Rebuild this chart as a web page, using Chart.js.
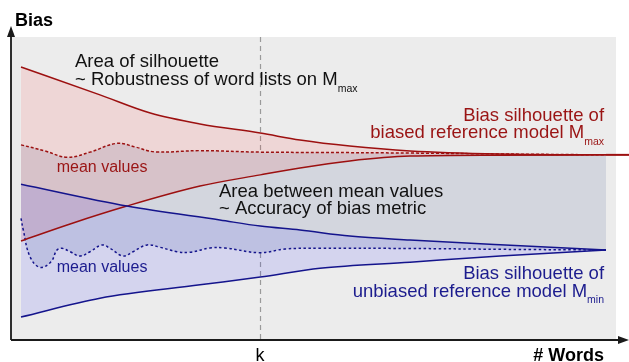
<!DOCTYPE html>
<html>
<head>
<meta charset="utf-8">
<script src="https://cdn.jsdelivr.net/npm/chart.js@4/dist/chart.umd.min.js"></script>
<style>
  html, body { margin: 0; padding: 0; background: #ffffff; }
  #wrap { width: 629px; height: 362px; }
</style>
</head>
<body>
<div id="wrap"><canvas id="c" width="629" height="362"></canvas></div>
<script>
// ---- data (x = number of words, y = bias; conceptual units) ----
const redUpperX = [0, 13.5, 22.1, 30.6, 40.9, 47.7, 56.2, 66.5, 81.9, 100];
const redUpperY = [90.1, 80.9, 74.9, 71.3, 68.3, 66.0, 64.0, 62.4, 61.4, 61.1];

const redLowerX = [0, 8.4, 18.1, 30.6, 40.9, 47.7, 56.2, 66.5, 81.9, 100];
const redLowerY = [32.7, 38.3, 44.2, 50.8, 54.5, 56.8, 59.1, 60.7, 61.0, 61.1];

const redMeanX = [0, 4.1, 7.9, 11.8, 16.4, 19.5, 22.9, 30.6, 40.9, 51.1, 66.5, 81.9, 100];
const redMeanY = [64.4, 62.4, 60.3, 62.0, 64.9, 63.7, 62.1, 62.5, 62.0, 61.9, 61.7, 61.4, 61.1];

const redTailX = [100, 103.93];
const redTailY = [61.1, 61.1];

const blueUpperX = [0, 18.1, 34.0, 40.9, 47.7, 56.2, 66.5, 81.9, 100];
const blueUpperY = [51.4, 44.2, 39.6, 37.6, 36.3, 34.3, 33.0, 31.4, 29.7];

const blueLowerX = [0, 13.5, 30.6, 40.9, 51.1, 66.5, 81.9, 100];
const blueLowerY = [7.6, 13.8, 18.2, 20.8, 23.7, 25.7, 27.7, 29.7];

const blueMeanX = [0, 0.39, 1.54, 3.25, 5.13, 6.15, 7.01, 8.38, 10.09, 11.79, 13.85, 15.21, 17.44,
                   19.15, 21.54, 23.76, 26.67, 28.89, 32.31, 34.87, 40.85, 45.13, 51.11, 66.5, 81.88, 100];
const blueMeanY = [40.17, 36.30, 27.49, 23.99, 25.84, 29.70, 30.26, 29.14, 27.72, 29.14, 31.35, 30.26, 27.72,
                   29.14, 31.35, 30.59, 29.14, 28.94, 30.36, 30.36, 28.81, 30.03, 30.26, 30.20, 29.93, 29.70];

const kTick = 40.85;          // position of "k" on the # Words axis
const bgEndX = 101.7;         // end of the grey panel
const xMin = -1.709, xMax = 103.93, yMin = 0, yMax = 100;

const pts = (xs, ys) => xs.map((x, i) => ({ x: x, y: ys[i] }));

const RED = '#9c1010';
const BLUE = '#14148c';
const RED_TXT = '#9a1414';
const BLUE_TXT = '#1c1c8e';

// ---- annotation texts (anchors in data units) ----
const annotations = [
  { parts: [['Area of silhouette', 18.5]], x: 9.23, y: 90.0, align: 'left', color: '#111' },
  { parts: [['~ Robustness of word lists on M', 18.5], ['max', 10.5, 7]], x: 9.23, y: 84.2, align: 'left', color: '#111' },
  { parts: [['Bias silhouette of', 18.5]], x: 99.66, y: 72.4, align: 'right', color: RED_TXT },
  { parts: [['biased reference model M', 18.5], ['max', 10.5, 7]], x: 99.66, y: 66.6, align: 'right', color: RED_TXT },
  { parts: [['mean values', 16]], x: 6.1, y: 55.3, align: 'left', color: RED_TXT },
  { parts: [['Area between mean values', 18.5]], x: 33.85, y: 47.3, align: 'left', color: '#111' },
  { parts: [['~ Accuracy of bias metric', 18.5]], x: 33.85, y: 41.5, align: 'left', color: '#111' },
  { parts: [['mean values', 16]], x: 6.1, y: 22.5, align: 'left', color: BLUE_TXT },
  { parts: [['Bias silhouette of', 18.5]], x: 99.66, y: 20.1, align: 'right', color: BLUE_TXT },
  { parts: [['unbiased reference model M', 18.5], ['min', 10.5, 6]], x: 99.66, y: 14.1, align: 'right', color: BLUE_TXT }
];

const FONT = "'Liberation Sans', Arial, Helvetica, sans-serif";

const decor = {
  id: 'decor',
  beforeDraw(chart) {
    const { ctx, chartArea: a, scales: { x } } = chart;
    ctx.save();
    ctx.fillStyle = '#ececec';
    ctx.fillRect(a.left, a.top, x.getPixelForValue(bgEndX) - a.left, a.bottom - a.top);
    // dashed k line
    const kx = Math.round(x.getPixelForValue(kTick)) + 0.5;
    ctx.strokeStyle = '#9a9a9a';
    ctx.lineWidth = 1.2;
    ctx.setLineDash([5, 4]);
    ctx.beginPath();
    ctx.moveTo(kx, a.top);
    ctx.lineTo(kx, a.bottom);
    ctx.stroke();
    ctx.restore();
  },
  afterDraw(chart) {
    const { ctx, chartArea: a, scales: { x, y } } = chart;
    ctx.save();
    // axes
    ctx.strokeStyle = '#1a1a1a';
    ctx.fillStyle = '#1a1a1a';
    ctx.lineWidth = 1.8;
    ctx.setLineDash([]);
    ctx.beginPath();
    ctx.moveTo(a.left, a.bottom);
    ctx.lineTo(a.left, a.top - 2);
    ctx.moveTo(a.left, a.bottom);
    ctx.lineTo(a.right - 8, a.bottom);
    ctx.stroke();
    // arrow heads
    ctx.beginPath();
    ctx.moveTo(a.left, a.top - 11);
    ctx.lineTo(a.left - 4, a.top);
    ctx.lineTo(a.left + 4, a.top);
    ctx.closePath();
    ctx.fill();
    ctx.beginPath();
    ctx.moveTo(a.right, a.bottom);
    ctx.lineTo(a.right - 11, a.bottom - 4);
    ctx.lineTo(a.right - 11, a.bottom + 4);
    ctx.closePath();
    ctx.fill();

    // axis titles and k tick
    ctx.fillStyle = '#000';
    ctx.textBaseline = 'alphabetic';
    ctx.font = 'bold 18px ' + FONT;
    ctx.textAlign = 'left';
    ctx.fillText('Bias', 15, 25.7);
    ctx.textAlign = 'right';
    ctx.fillText('# Words', x.getPixelForValue(99.66), 360.5);
    ctx.font = '18px ' + FONT;
    ctx.textAlign = 'center';
    ctx.fillText('k', x.getPixelForValue(kTick), 360.5);

    // annotations
    ctx.textAlign = 'left';
    for (const an of annotations) {
      let total = 0;
      const widths = an.parts.map(p => {
        ctx.font = p[1] + 'px ' + FONT;
        const w = ctx.measureText(p[0]).width;
        total += w;
        return w;
      });
      let px = x.getPixelForValue(an.x);
      const py = y.getPixelForValue(an.y);
      if (an.align === 'right') px -= total;
      ctx.fillStyle = an.color;
      an.parts.forEach((p, i) => {
        ctx.font = p[1] + 'px ' + FONT;
        ctx.fillText(p[0], px, py + (p[2] || 0));
        px += widths[i];
      });
    }
    ctx.restore();
  }
};

const lineBase = { pointRadius: 0, pointHoverRadius: 0, borderWidth: 1.5 };

new Chart(document.getElementById('c'), {
  type: 'line',
  data: {
    datasets: [
      Object.assign({}, lineBase, {
        label: 'biased mean', data: pts(redMeanX, redMeanY), borderColor: RED,
        borderDash: [3, 2], tension: 0.4, fill: 1, backgroundColor: '#d3d6de', order: 3
      }),
      Object.assign({}, lineBase, {
        label: 'unbiased mean', data: pts(blueMeanX, blueMeanY), borderColor: BLUE,
        borderDash: [2.5, 2.5], tension: 0.4, fill: false, order: 3
      }),
      Object.assign({}, lineBase, {
        label: 'biased upper', data: pts(redUpperX, redUpperY), borderColor: RED,
        cubicInterpolationMode: 'monotone', fill: 3, backgroundColor: 'rgba(255,40,40,0.11)', order: 2
      }),
      Object.assign({}, lineBase, {
        label: 'biased lower', data: pts(redLowerX, redLowerY), borderColor: RED,
        cubicInterpolationMode: 'monotone', fill: false, order: 2
      }),
      Object.assign({}, lineBase, {
        label: 'unbiased upper', data: pts(blueUpperX, blueUpperY), borderColor: BLUE,
        cubicInterpolationMode: 'monotone', fill: 5, backgroundColor: 'rgba(40,40,255,0.12)', order: 1
      }),
      Object.assign({}, lineBase, {
        label: 'unbiased lower', data: pts(blueLowerX, blueLowerY), borderColor: BLUE,
        cubicInterpolationMode: 'monotone', fill: false, order: 1
      }),
      Object.assign({}, lineBase, {
        label: 'biased tail', data: pts(redTailX, redTailY), borderColor: RED,
        borderWidth: 2, fill: false, order: 0, clip: false
      })
    ]
  },
  options: {
    responsive: false,
    animation: false,
    events: [],
    layout: { padding: { left: 11, right: 0, top: 37, bottom: 22 } },
    scales: {
      x: { type: 'linear', min: xMin, max: xMax, display: false },
      y: { type: 'linear', min: yMin, max: yMax, display: false }
    },
    plugins: {
      legend: { display: false },
      tooltip: { enabled: false },
      filler: { drawTime: 'beforeDatasetsDraw', propagate: false }
    }
  },
  plugins: [decor]
});
</script>
</body>
</html>
